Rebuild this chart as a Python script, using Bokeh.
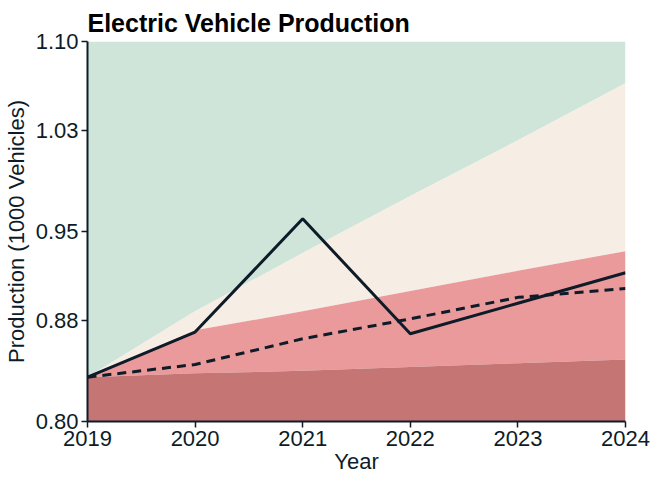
from bokeh.plotting import figure
from bokeh.models import Range1d, FixedTicker
from bokeh.embed import file_html
from bokeh.resources import INLINE

years = [2019, 2020, 2021, 2022, 2023, 2024]
actual = [0.835, 0.8706, 0.960, 0.8693, 0.8934, 0.9174]
trend = [0.835, 0.845, 0.8653, 0.881, 0.898, 0.905]
band_dark_top = [0.835, 0.838, 0.840, 0.843, 0.846, 0.849]
band_red_top = [0.835, 0.872, 0.887, 0.903, 0.919, 0.9345]
band_beige_top = [0.835, 0.887, 0.933, 0.978, 1.022, 1.067]
y_min, y_max = 0.80, 1.10
y_ticks = [0.80, 0.88, 0.95, 1.03, 1.10]
y_tick_labels = ["0.80", "0.88", "0.95", "1.03", "1.10"]

FONT = "Liberation Sans"
INK = "#0d1c28"

p = figure(width=650, height=478, output_backend="svg", toolbar_location=None,
           x_range=Range1d(years[0], years[-1]), y_range=Range1d(y_min, y_max),
           min_border_left=87, min_border_right=25, min_border_bottom=57, min_border_top=41)

bottom = [y_min] * len(years)
top = [y_max] * len(years)
p.varea(x=years, y1=band_beige_top, y2=top, fill_color="#cfe5d9")
p.varea(x=years, y1=band_red_top, y2=band_beige_top, fill_color="#f6ede4")
p.varea(x=years, y1=band_dark_top, y2=band_red_top, fill_color="#ea9a9a")
p.varea(x=years, y1=bottom, y2=band_dark_top, fill_color="#c57574")

p.line(years, trend, line_color=INK, line_width=3, line_dash="9 6")
p.line(years, actual, line_color=INK, line_width=3)

p.title.text = "Electric Vehicle Production"
p.title.text_font = FONT
p.title.text_font_size = "25px"
p.title.text_font_style = "bold"
p.title.text_color = "#000000"
p.title.standoff = 10

p.xgrid.visible = False
p.ygrid.visible = False
p.outline_line_color = None

p.xaxis.ticker = FixedTicker(ticks=years)
p.yaxis.ticker = FixedTicker(ticks=y_ticks)
p.yaxis.major_label_overrides = {t: l for t, l in zip(y_ticks, y_tick_labels)}
p.xaxis.axis_label = "Year"
p.yaxis.axis_label = "Production (1000 Vehicles)"

for ax in (p.xaxis[0], p.yaxis[0]):
    ax.axis_line_color = INK
    ax.axis_line_width = 2
    ax.major_tick_line_color = INK
    ax.major_tick_line_width = 1.5
    ax.major_tick_out = 6
    ax.major_tick_in = 0
    ax.minor_tick_line_color = None
    ax.major_label_text_font = FONT
    ax.major_label_text_font_size = "22px"
    ax.major_label_text_color = INK
    ax.axis_label_text_font = FONT
    ax.axis_label_text_font_size = "22px"
    ax.axis_label_text_font_style = "normal"
    ax.axis_label_text_color = INK

p.yaxis.major_label_standoff = 3
p.yaxis.axis_label_standoff = 4
p.xaxis.major_label_standoff = 3
p.xaxis.axis_label_standoff = 0

open("out.html", "w").write(file_html(p, INLINE))
